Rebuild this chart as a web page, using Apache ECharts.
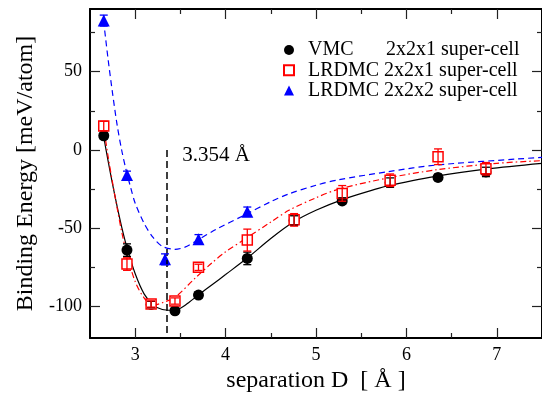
<!DOCTYPE html>
<html>
<head>
<meta charset="utf-8">
<script src="https://cdn.jsdelivr.net/npm/echarts@6/dist/echarts.min.js"></script>
<style>
html, body { margin: 0; padding: 0; background: #fff; }
#chart { width: 542px; height: 398px; }
</style>
</head>
<body>
<div id="chart"></div>
<script>
// measured points, 2x2x1 super-cell
var sepX = [2.652, 2.909, 3.176, 3.44, 3.70, 4.24, 4.758, 5.29, 5.82, 6.35, 6.88];
var vmcE = [9.1, -63.9, -98.6, -102.6, -92.6, -69.2, -45.0, -32.5, -20.8, -17.5, -14.0];
var vmcErr = [2, 4, 2, 2, 2, 4, 3, 2, 3, 2, 3];
var lrdmcE = [15.3, -72.8, -98.3, -96.4, -74.9, -57.5, -44.6, -27.7, -19.3, -4.3, -12.0];
var lrdmcErr = [3, 4, 2, 2, 2, 7, 4, 5, 4, 5, 4];

// 2x2x2 super-cell
var sep2X = [2.652, 2.909, 3.33, 3.70, 4.24];
var lrdmc2E = [82.6, -16.0, -69.8, -57.0, -39.4];
var lrdmc2Err = [3.5, 2.5, 3.5, 3, 3];

// fitted curves
var vmcFitX = [2.65, 2.7, 2.75, 2.8, 2.85, 2.91, 3.0, 3.1, 3.2, 3.3, 3.4, 3.5, 3.6, 3.7, 3.85, 4.0, 4.25, 4.5, 4.75, 5.0, 5.3, 5.69, 5.8, 6.35, 6.9, 7.5];
var vmcFitY = [9, -7, -22, -36, -49, -62.5, -79, -92, -99, -101.8, -102.3, -101, -97, -92.5, -86, -79.5, -68.5, -56.5, -46, -38.5, -31.5, -24.5, -22.8, -16.5, -12, -8.5];
var lrdmcFitX = [2.65, 2.7, 2.75, 2.8, 2.85, 2.91, 3.0, 3.1, 3.2, 3.3, 3.44, 3.66, 3.85, 4.0, 4.21, 4.5, 4.7, 5.0, 5.25, 5.8, 6.35, 7.0, 7.5];
var lrdmcFitY = [15, -4, -21, -37, -52, -67, -84, -94.5, -99, -97.5, -94, -82, -72, -65, -57, -46, -38.5, -30.5, -25, -17.8, -12.5, -8.5, -6.8];
var lrdmc2FitX = [2.65, 2.7, 2.75, 2.8, 2.85, 2.9, 2.95, 3.0, 3.1, 3.2, 3.3, 3.44, 3.55, 3.66, 3.9, 4.21, 4.5, 4.7, 5.0, 5.25, 5.8, 6.35, 7.5];
var lrdmc2FitY = [82.6, 58, 36, 16, 0, -13, -24, -34, -47, -56, -61.5, -63.4, -62, -58.5, -50.5, -41.5, -33, -28, -22.5, -19, -13.8, -9.5, -4.7];

var eqSep = 3.354;

var xMajor = [3, 4, 5, 6, 7];
var xMinor = [3.5, 4.5, 5.5, 6.5];
var yMajor = [-100, -50, 0, 50];
var yMinor = [-75, -25, 25, 75];

function zip(a, b, c) {
  return a.map(function (v, i) { return c ? [v, b[i], c[i]] : [v, b[i]]; });
}

var serif = "'Liberation Serif', 'Times New Roman', serif";

function errorBars(params, api) {
  var x = api.value(0), y = api.value(1), e = api.value(2);
  var hi = api.coord([x, y + e]);
  var lo = api.coord([x, y - e]);
  var hw = 4;
  var st = { stroke: api.visual('color'), lineWidth: 1.3 };
  return {
    type: 'group',
    children: [
      { type: 'line', shape: { x1: hi[0], y1: hi[1], x2: lo[0], y2: lo[1] }, style: st },
      { type: 'line', shape: { x1: hi[0] - hw, y1: hi[1], x2: hi[0] + hw, y2: hi[1] }, style: st },
      { type: 'line', shape: { x1: lo[0] - hw, y1: lo[1], x2: lo[0] + hw, y2: lo[1] }, style: st }
    ]
  };
}

function xAxisDef(pos, major, len, withLabel, withName) {
  return {
    type: 'value', position: pos, min: 2.5, max: 7.5,
    name: withName ? 'separation D  [ Å ]' : '',
    nameLocation: 'middle', nameGap: 28,
    nameTextStyle: { fontFamily: serif, fontSize: 24, color: '#000' },
    axisLine: { show: major, onZero: false, lineStyle: { color: '#000', width: 2 } },
    axisTick: { show: true, inside: true, length: len, customValues: major ? xMajor : xMinor,
      lineStyle: { color: '#222', width: 1.2 } },
    axisLabel: { show: withLabel, customValues: xMajor, margin: 8,
      fontFamily: serif, fontSize: 18, color: '#000' },
    splitLine: { show: false }
  };
}

function yAxisDef(pos, major, len, withLabel, withName) {
  return {
    type: 'value', position: pos, min: -120, max: 90,
    name: withName ? 'Binding Energy [meV/atom]' : '',
    nameLocation: 'middle', nameGap: 52,
    nameTextStyle: { fontFamily: serif, fontSize: 24, color: '#000' },
    axisLine: { show: major, onZero: false, lineStyle: { color: '#000', width: 2 } },
    axisTick: { show: true, inside: true, length: len, customValues: major ? yMajor : yMinor,
      lineStyle: { color: '#222', width: 1.2 } },
    axisLabel: { show: withLabel, customValues: yMajor, margin: 8,
      fontFamily: serif, fontSize: 18, color: '#000' },
    splitLine: { show: false }
  };
}

var chart = echarts.init(document.getElementById('chart'));

var option = {
  animation: false,
  backgroundColor: '#fff',
  grid: { left: 90, right: -3, top: 9, bottom: 60 },
  xAxis: [
    xAxisDef('bottom', true, 10, true, true),
    xAxisDef('bottom', false, 5, false, false),
    xAxisDef('top', true, 10, false, false),
    xAxisDef('top', false, 5, false, false)
  ],
  yAxis: [
    yAxisDef('left', true, 10, true, true),
    yAxisDef('left', false, 5, false, false),
    yAxisDef('right', true, 10, false, false),
    yAxisDef('right', false, 5, false, false)
  ],
  legend: {
    orient: 'vertical', left: 278, top: 35,
    itemWidth: 10, itemHeight: 10, itemGap: 0.3,
    data: ['VMC', 'LRDMC 2x2x1 super-cell', 'LRDMC 2x2x2 super-cell'],
    formatter: function (name) {
      if (name === 'VMC') return '{p| }{a|VMC}{b|2x2x1 super-cell}';
      return '{p| }{b|' + name + '}';
    },
    textStyle: {
      fontFamily: serif, fontSize: 20, color: '#000',
      rich: {
        p: { fontFamily: serif, fontSize: 20, width: 9, lineHeight: 23 },
        a: { fontFamily: serif, fontSize: 20, color: '#000', width: 78, lineHeight: 23 },
        b: { fontFamily: serif, fontSize: 20, color: '#000', lineHeight: 23 }
      }
    }
  },
  series: [
    {
      name: 'vmc fit', type: 'line', data: zip(vmcFitX, vmcFitY), smooth: 0.3,
      showSymbol: false, silent: true, z: 1,
      lineStyle: { color: '#000', width: 1.2 },
      markLine: {
        silent: true, symbol: 'none', label: { show: false },
        lineStyle: { color: '#000', width: 1.5, type: [7, 4] },
        data: [[{ coord: [eqSep, 0] }, { coord: [eqSep, -120] }]]
      },
      markPoint: {
        silent: true, symbol: 'circle', symbolSize: 0,
        label: {
          show: true, position: 'right', offset: [10, 5], formatter: '3.354 Å',
          fontFamily: serif, fontSize: 21, color: '#000'
        },
        data: [{ coord: [eqSep, 0] }]
      }
    },
    {
      name: 'lrdmc fit', type: 'line', data: zip(lrdmcFitX, lrdmcFitY), smooth: 0.3,
      showSymbol: false, silent: true, z: 1,
      lineStyle: { color: '#ff0000', width: 1.2, type: [6, 3, 1.5, 3] }
    },
    {
      name: 'lrdmc2 fit', type: 'line', data: zip(lrdmc2FitX, lrdmc2FitY), smooth: 0.3,
      showSymbol: false, silent: true, z: 1,
      lineStyle: { color: '#0000ff', width: 1.2, type: [6, 4] }
    },
    {
      name: 'VMC', type: 'scatter', data: zip(sepX, vmcE), symbol: 'circle', symbolSize: 11, z: 3,
      itemStyle: { color: '#000', opacity: 1 }
    },
    {
      name: 'LRDMC 2x2x1 super-cell', type: 'scatter', data: zip(sepX, lrdmcE), symbol: 'rect', symbolSize: 10, z: 4,
      itemStyle: { color: '#fff', borderColor: '#ff0000', borderWidth: 1.5, opacity: 1 }
    },
    {
      name: 'LRDMC 2x2x2 super-cell', type: 'scatter', data: zip(sep2X, lrdmc2E), symbol: 'triangle', symbolSize: 12, z: 4,
      itemStyle: { color: '#0000ff', opacity: 1 }
    },
    {
      name: 'vmc err', type: 'custom', renderItem: errorBars, data: zip(sepX, vmcE, vmcErr), z: 5,
      itemStyle: { color: '#000' }, silent: true
    },
    {
      name: 'lrdmc err', type: 'custom', renderItem: errorBars, data: zip(sepX, lrdmcE, lrdmcErr), z: 5,
      itemStyle: { color: '#ff0000' }, silent: true
    },
    {
      name: 'lrdmc2 err', type: 'custom', renderItem: errorBars, data: zip(sep2X, lrdmc2E, lrdmc2Err), z: 5,
      itemStyle: { color: '#0000ff' }, silent: true
    }
  ]
};

chart.setOption(option);
</script>
</body>
</html>
